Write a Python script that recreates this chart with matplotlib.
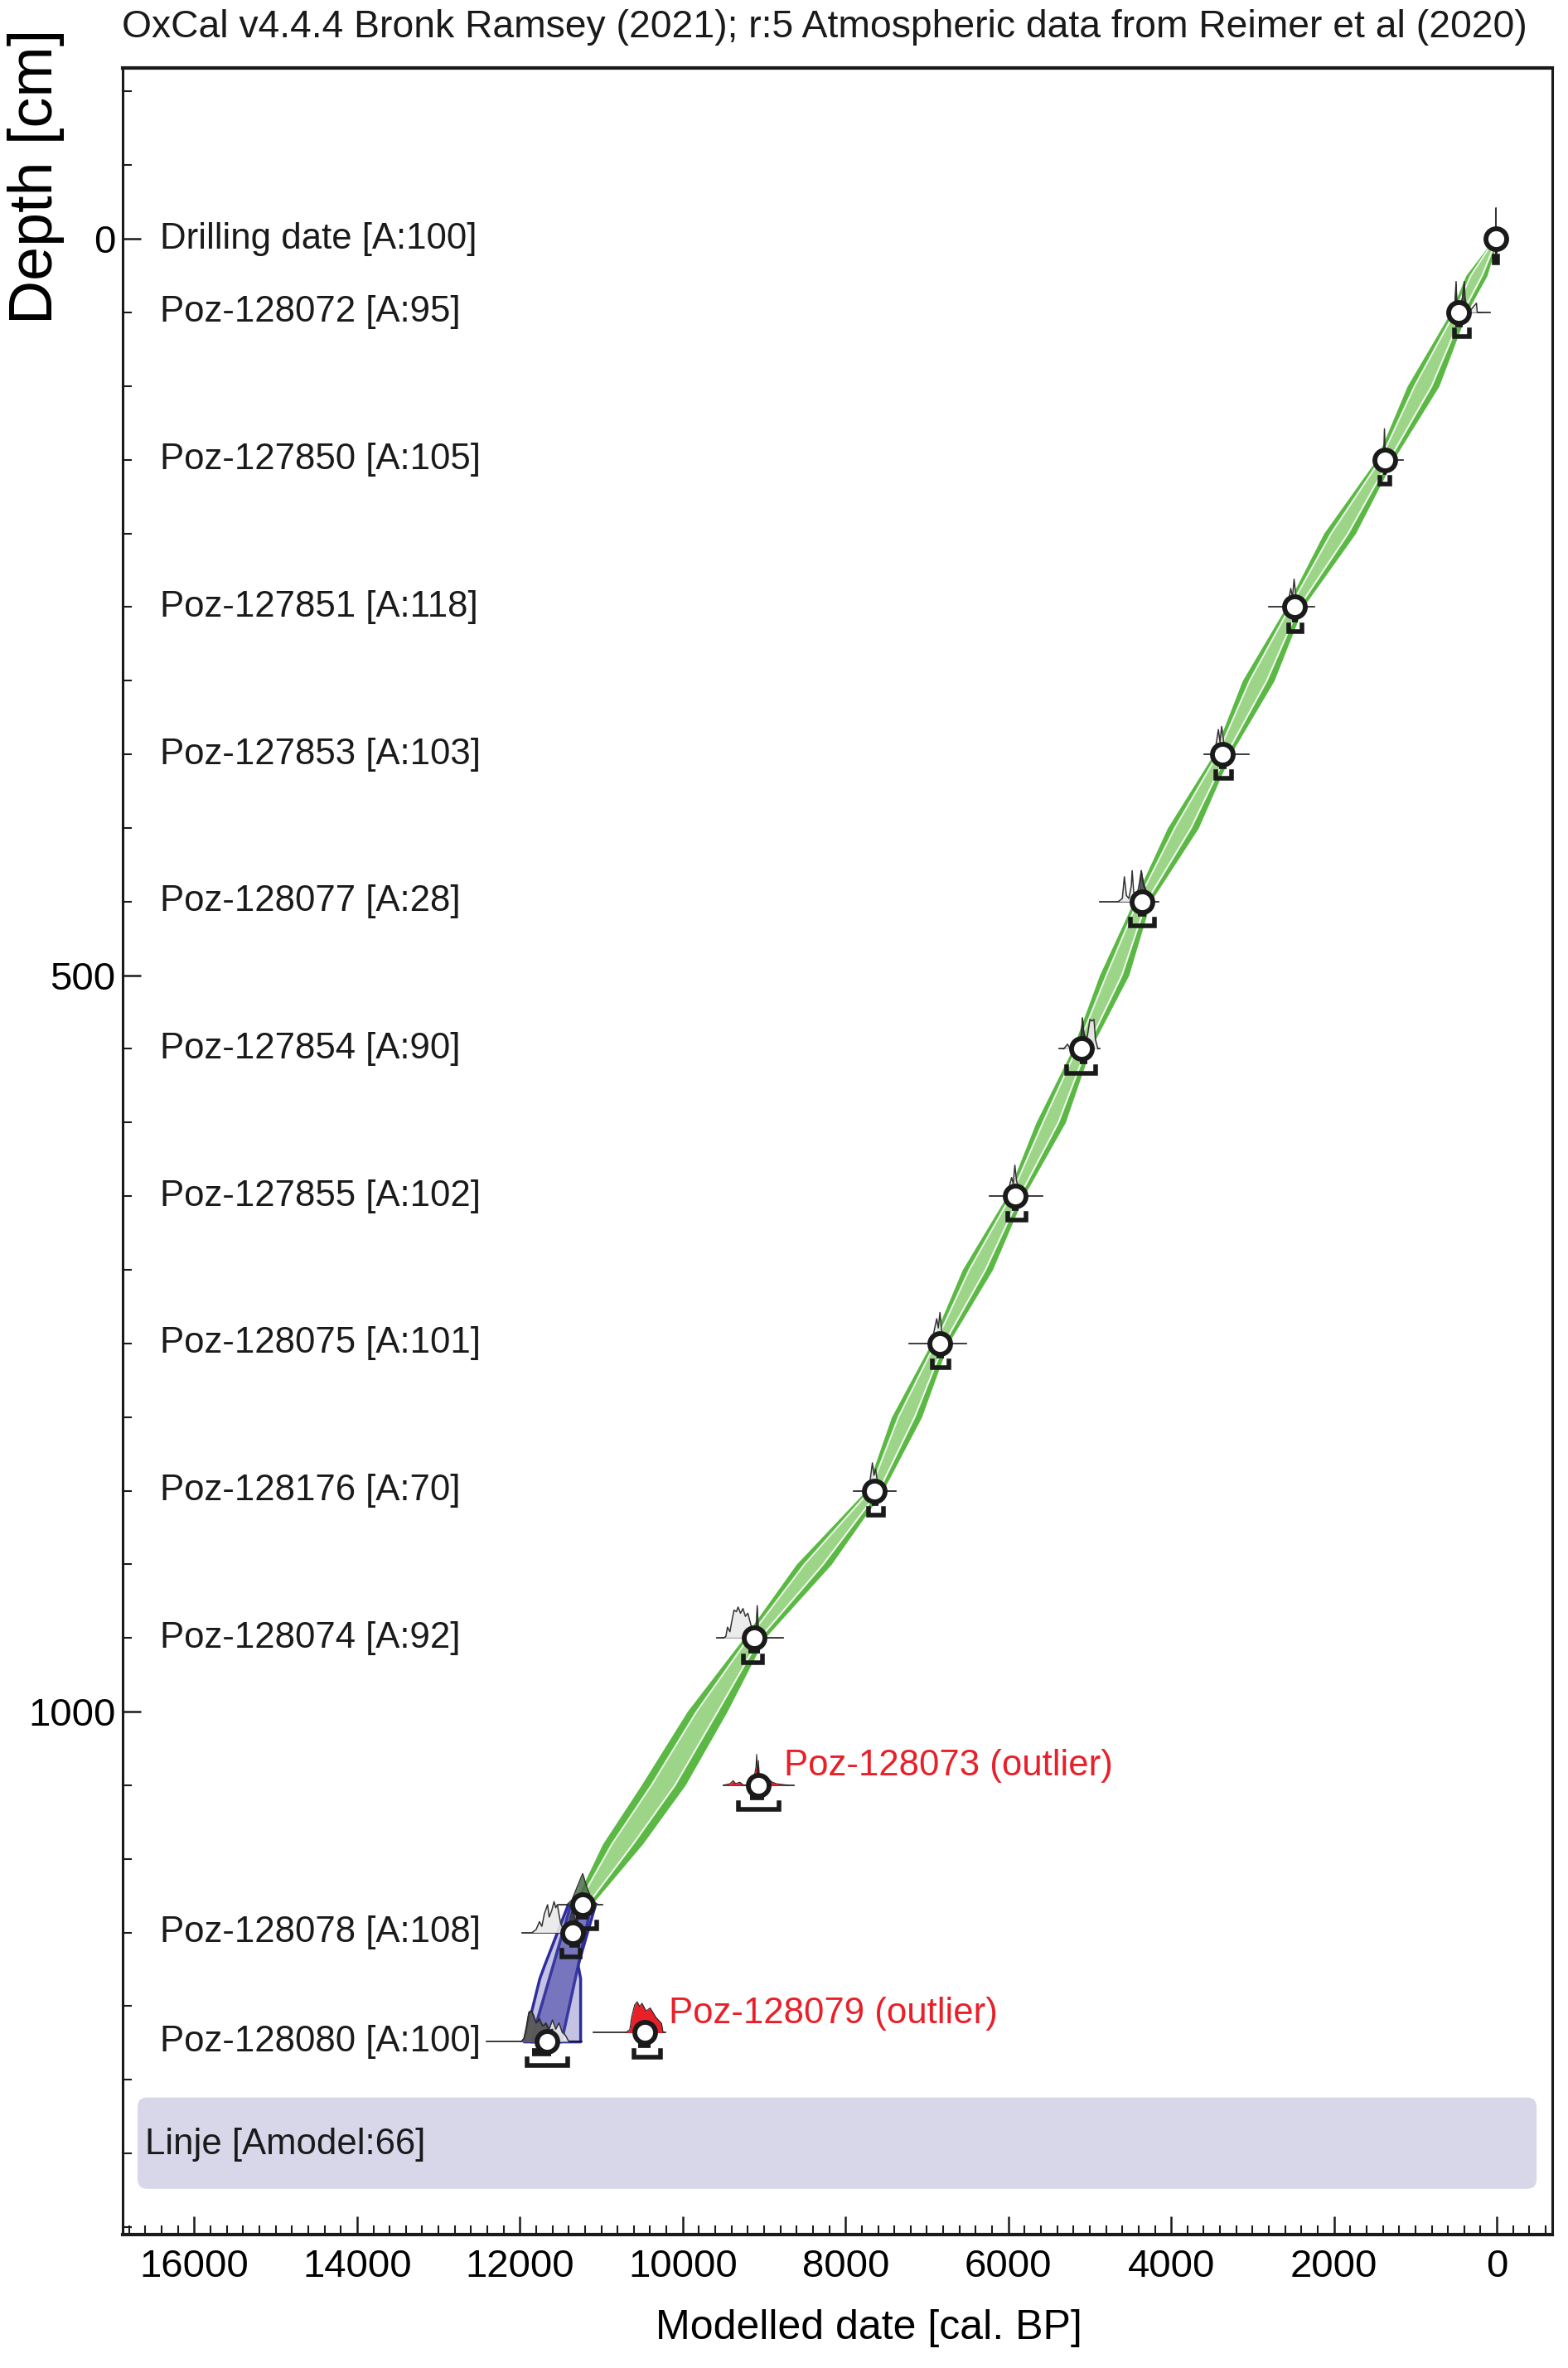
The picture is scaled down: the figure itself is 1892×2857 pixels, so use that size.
import numpy as np
import matplotlib as mpl

mpl.use('Agg')
import matplotlib.pyplot as plt
from matplotlib.patches import FancyBboxPatch
from matplotlib.ticker import MultipleLocator

plt.rcParams['font.family'] = ['Liberation Sans', 'DejaVu Sans']

# ---- dated samples (depth in cm, modelled date in cal BP) ----
names = ["Drilling date [A:100]", "Poz-128072 [A:95]", "Poz-127850 [A:105]",
         "Poz-127851 [A:118]", "Poz-127853 [A:103]", "Poz-128077 [A:28]",
         "Poz-127854 [A:90]", "Poz-127855 [A:102]", "Poz-128075 [A:101]",
         "Poz-128176 [A:70]", "Poz-128074 [A:92]", "Poz-128078 [A:108]",
         "Poz-128080 [A:100]"]
depths = [0, 50, 150, 250, 350, 450, 550, 650, 750, 850, 950, 1150, 1224]
modelled = [10, 468, 1375, 2484, 3374, 4357, 5100, 5915, 6843, 7645, 9121, 11351, 11667]
base_old = [20, 590, 1450, 2800, 3594, 4876, 5375, 6230, 7216, 7900, 9580, 11970, 12410]
base_young = [0, 80, 1150, 2240, 3044, 4153, 4876, 5580, 6515, 7380, 8765, 11190, 11240]
r68_old = [25, 515, 1400, 2520, 3410, 4408, 5121, 5960, 6880, 7680, 9193, 11391, 11850]
r68_young = [-5, 420, 1350, 2440, 3320, 4306, 5029, 5870, 6790, 7600, 9050, 11259, 11616]
r95_old = [30, 520, 1435, 2555, 3451, 4500, 5284, 6006, 6933, 7716, 9254, 11483, 11911]
r95_young = [-10, 340, 1313, 2392, 3258, 4205, 4927, 5782, 6729, 7533, 9020, 11259, 11412]

# likelihood shapes (year, relative height)
lik_years = [
    [30, 12, 10, 8],
    [560, 520, 500, 490, 470, 460, 440, 420, 400, 390, 370, 330, 250, 240, 180],
    [1420, 1390, 1380, 1370, 1340, 1300],
    [2620, 2560, 2530, 2510, 2490, 2470, 2440, 2400, 2350],
    [3500, 3450, 3420, 3400, 3380, 3350, 3300, 3250],
    [4650, 4600, 4575, 4550, 4520, 4490, 4479, 4460, 4420, 4390, 4367, 4340, 4300, 4270, 4230],
    [5320, 5273, 5240, 5120, 5100, 5090, 5070, 5030, 4998, 4975, 4948, 4930, 4900],
    [6060, 6000, 5960, 5940, 5920, 5900, 5870, 5820],
    [6980, 6920, 6880, 6860, 6840, 6820, 6780, 6720],
    [7760, 7700, 7670, 7650, 7630, 7600, 7560],
    [9500, 9470, 9450, 9420, 9400, 9370, 9340, 9320, 9290, 9260, 9230, 9200, 9160, 9100, 9060],
    [11850, 11800, 11760, 11730, 11700, 11660, 11640, 11610, 11580, 11560, 11540, 11500, 11450],
    [11980, 11950, 11920, 11890, 11860, 11830, 11800, 11760, 11720, 11680, 11640, 11600,
     11560, 11520, 11480, 11440, 11400],
]
lik_heights = [
    [0, 0, 1.0, 0],
    [0, 0.1, 1.0, 0.2, 0.3, 0.2, 0.2, 0.5, 1.0, 0.5, 0.1, 0.05, 0.3, 0, 0],
    [0, 0.1, 1.0, 0.2, 0.05, 0],
    [0, 0.2, 0.6, 0.3, 0.9, 0.4, 0.3, 0.1, 0],
    [0, 0.3, 0.8, 0.4, 0.9, 0.3, 0.1, 0],
    [0, 0.1, 0.8, 0.2, 0.1, 0.5, 1.0, 0.3, 0.2, 0.6, 1.0, 0.5, 0.3, 0.1, 0],
    [0, 0.15, 0, 0, 0.5, 1.0, 0.3, 0.4, 0.95, 0.9, 0.95, 0.3, 0],
    [0, 0.2, 0.6, 0.4, 1.0, 0.5, 0.2, 0],
    [0, 0.3, 0.8, 0.5, 1.0, 0.4, 0.1, 0],
    [0, 0.3, 0.9, 0.5, 0.7, 0.1, 0],
    [0, 0.05, 0.35, 0.2, 0.5, 0.9, 0.85, 1.0, 0.8, 0.95, 0.7, 0.8, 0.4, 0.2, 0],
    [0, 0.1, 0.35, 0.2, 0.6, 0.9, 0.5, 0.7, 1.0, 0.8, 0.9, 0.3, 0],
    [0, 0.1, 0.4, 0.9, 1.0, 0.8, 0.6, 0.7, 0.5, 0.6, 0.4, 0.7, 0.4, 0.6, 0.3, 0.2, 0],
]
# posterior (modelled) shapes drawn dark
post_idx = [1, 5, 6, 10, 11, 12]
post_years = [
    [510, 500, 490, 470, 440, 420, 400, 390],
    [4400, 4380, 4367, 4340, 4300, 4270],
    [5130, 5100, 5090, 5070, 5040, 5020],
    [9120, 9100, 9085, 9070, 9050],
    [11420, 11390, 11360, 11330, 11300, 11270],
    [11980, 11950, 11920, 11890, 11860, 11830, 11800, 11760, 11720, 11680, 11640, 11600, 11560],
]
post_heights = [
    [0, 0.9, 0.2, 0.3, 0.2, 0.5, 0.95, 0],
    [0, 0.5, 1.0, 0.6, 0.3, 0],
    [0, 0.6, 1.0, 0.5, 0.3, 0],
    [0, 0.3, 1.05, 0.3, 0],
    [0, 0.4, 0.7, 0.5, 0.3, 0],
    [0, 0.1, 0.5, 0.95, 1.0, 0.85, 0.6, 0.75, 0.5, 0.55, 0.35, 0.4, 0],
]

# boundary between the two deposition sections
node_depth = 1131
node_date = 11229
node_years = [11420, 11360, 11300, 11229, 11170, 11110, 11040]
node_heights = [0, 0.15, 0.55, 1.0, 0.5, 0.12, 0]
node_base = [11520, 10990]
node_r68 = [11310, 11158]
node_r95 = [11310, 11055]

# outliers
out_names = ["Poz-128073 (outlier)", "Poz-128079 (outlier)"]
out_depths = [1050, 1218]
out_dates = [9070, 10465]
out_base_old = [9498, 11100]
out_base_young = [8633, 10211]
out_years = [
    [9500, 9420, 9380, 9350, 9300, 9250, 9150, 9120, 9100, 9091, 9080, 9070, 9060, 9000,
     8950, 8900, 8850, 8700],
    [10700, 10650, 10628, 10590, 10560, 10530, 10500, 10450, 10400, 10330, 10260, 10241],
]
out_heights = [
    [0, 0.05, 0.15, 0.05, 0.1, 0, 0.05, 0.3, 0.6, 1.0, 0.2, 0.8, 0.3, 0.1, 0.2, 0.1, 0.05, 0],
    [0, 0.1, 0.5, 0.9, 1.0, 0.85, 0.95, 0.7, 0.8, 0.5, 0.3, 0],
]
out_r68_old = [9172, 10547]
out_r68_young = [9000, 10394]
out_r95_old = [9315, 10598]
out_r95_young = [8816, 10272]

# age-depth envelope, upper section (green)
band_depth = [0, 25, 50, 100, 150, 200, 250, 300, 350, 400, 450, 500, 550, 600, 650, 700,
              750, 800, 850, 900, 950, 1000, 1050, 1090, 1131]
band_center = [10, 250, 468, 905, 1375, 1930, 2484, 2930, 3374, 3855, 4357, 4700, 5100, 5480,
               5915, 6380, 6843, 7250, 7645, 8390, 9121, 9700, 10240, 10740, 11229]
band_half95 = [25, 130, 100, 195, 105, 195, 105, 195, 105, 190, 105, 180, 110, 180, 105, 185,
               105, 185, 105, 215, 130, 245, 270, 245, 110]
band_half68 = [12, 70, 50, 105, 55, 105, 55, 105, 55, 100, 55, 95, 60, 95, 55, 100, 55, 100,
               55, 115, 70, 130, 145, 130, 60]

# lower section (blue)
blue_depth = [1131, 1172, 1181, 1224]
blue_old95 = [11412, 11700, 11760, 11952]
blue_young95 = [11076, 11290, 11259, 11259]
blue_depth68 = [1131, 1224]
blue_old68 = [11381, 11870]
blue_young68 = [11127, 11493]

# overall model bar
model_label = "Linje [Amodel:66]"
model_x = [-489, 16696]
model_y = [1262, 1324]

dist_h = 21.0
ink = '#1a1a1a'
red = '#e8202a'
lab_fs = 31.5

fig = plt.figure(figsize=(18.92, 28.57), dpi=100)
ax = fig.add_axes([0.0782, 0.0564, 0.9117, 0.9149])
ax.set_xlim(16880, -680)
ax.set_ylim(1355, -116)

# model bar
bar = FancyBboxPatch((model_x[0], model_y[0]), model_x[1] - model_x[0], model_y[1] - model_y[0],
                     boxstyle='round,pad=0,rounding_size=120', mutation_aspect=0.055,
                     fc='#d8d7ea', ec='none', zorder=1)
ax.add_patch(bar)
ax.text(16604, 1294, model_label, fontsize=lab_fs, va='center', ha='left', color=ink, zorder=2)

# green envelope
bc = np.array(band_center)
h95 = np.array(band_half95)
h68 = np.array(band_half68)
ax.fill_betweenx(band_depth, bc - h95, bc + h95, color='#5cb845', lw=0, zorder=2)
ax.fill_betweenx(band_depth, bc - h68, bc + h68, color='#9cd488', lw=0, zorder=2)
ax.plot(bc - h68, band_depth, color='white', lw=1.5, alpha=0.85, zorder=2)
ax.plot(bc + h68, band_depth, color='white', lw=1.5, alpha=0.85, zorder=2)

# blue envelope
ax.fill_betweenx(blue_depth, blue_old95, blue_young95, color='#c5c3e4', ec='#2d2d9b',
                 lw=2.5, zorder=2)
ax.fill_betweenx(blue_depth68, blue_old68, blue_young68, color='#6f6dba', ec='#2d2d9b',
                 lw=2.5, alpha=0.9, zorder=2)


def ranges(d, r68, r95):
    ax.plot(r68, [d + 7.5, d + 7.5], color=ink, lw=7, solid_capstyle='butt', zorder=6)
    ax.plot([r95[0], r95[0], r95[1], r95[1]], [d + 12.0, d + 16.5, d + 16.5, d + 12.0],
            color=ink, lw=4, solid_joinstyle='miter', zorder=6)


def dist(years, heights, d, fc, ec, lw=1.0, alpha=1.0, z=4):
    top = d - np.array(heights) * dist_h
    ax.fill_between(years, d, top, color=fc, alpha=alpha, lw=0, zorder=z)
    ax.plot(years, top, color=ec, lw=lw, zorder=z)


for i, d in enumerate(depths):
    ax.plot([base_old[i], base_young[i]], [d, d], color=ink, lw=1.2, zorder=3)
    dist(lik_years[i], lik_heights[i], d, '#e9e9e9', '#333333', 1.1, 0.9)
    ranges(d, [r68_old[i], r68_young[i]], [r95_old[i], r95_young[i]])
    ax.text(16420, d, names[i], fontsize=lab_fs, va='center', ha='left', color=ink, zorder=7)

for k, i in enumerate(post_idx):
    dist(post_years[k], post_heights[k], depths[i], '#2e2e2e', '#2e2e2e', 1.0, 0.75, 5)

# boundary node
ax.plot(node_base, [node_depth, node_depth], color=ink, lw=1.2, zorder=3)
dist(node_years, node_heights, node_depth, '#4b6e45', '#2e2e2e', 1.0, 0.85, 5)
ranges(node_depth, node_r68, node_r95)

# outliers
for j, d in enumerate(out_depths):
    ax.plot([out_base_old[j], out_base_young[j]], [d, d], color=ink, lw=1.2, zorder=3)
    dist(out_years[j], out_heights[j], d, red, '#222222', 0.8, 1.0, 5)
    ranges(d, [out_r68_old[j], out_r68_young[j]], [out_r95_old[j], out_r95_young[j]])

ax.text(8755, 1037, out_names[0], fontsize=lab_fs, va='center', ha='left', color=red, zorder=7)
ax.text(10170, 1205, out_names[1], fontsize=lab_fs, va='center', ha='left', color=red, zorder=7)

# modelled points
mk = dict(marker='o', ls='none', ms=18, mfc='white', mec=ink, mew=4.2, zorder=8)
ax.plot(modelled, depths, **mk)
ax.plot([node_date], [node_depth], **mk)
ax.plot(out_dates, out_depths, **mk)

# axes styling
ax.xaxis.set_major_locator(MultipleLocator(2000))
ax.xaxis.set_minor_locator(MultipleLocator(200))
ax.yaxis.set_major_locator(MultipleLocator(500))
ax.yaxis.set_minor_locator(MultipleLocator(50))
ax.tick_params(which='both', direction='in', top=False, right=False, color=ink)
ax.tick_params(which='major', length=16, width=1.8, labelsize=34)
ax.tick_params(which='minor', length=8, width=1.5)
ax.tick_params(axis='x', pad=12)
ax.tick_params(axis='y', pad=6)
for side in ['top', 'bottom']:
    ax.spines[side].set_linewidth(3.0)
for side in ['left', 'right']:
    ax.spines[side].set_linewidth(2.2)
for s in ax.spines.values():
    s.set_color(ink)

ax.set_xlabel('Modelled date [cal. BP]', fontsize=36, va='center')
ax.xaxis.set_label_coords(0.522, -0.0432)
ax.set_ylabel('Depth [cm]', fontsize=53, va='center')
ax.yaxis.set_label_coords(-0.0603, 0.95)

fig.text(995 / 1892, 1 - 33 / 2857,
         'OxCal v4.4.4 Bronk Ramsey (2021); r:5 Atmospheric data from Reimer et al (2020)',
         fontsize=33.3, ha='center', va='center', color=ink)

fig.savefig('out.png', dpi=100)
